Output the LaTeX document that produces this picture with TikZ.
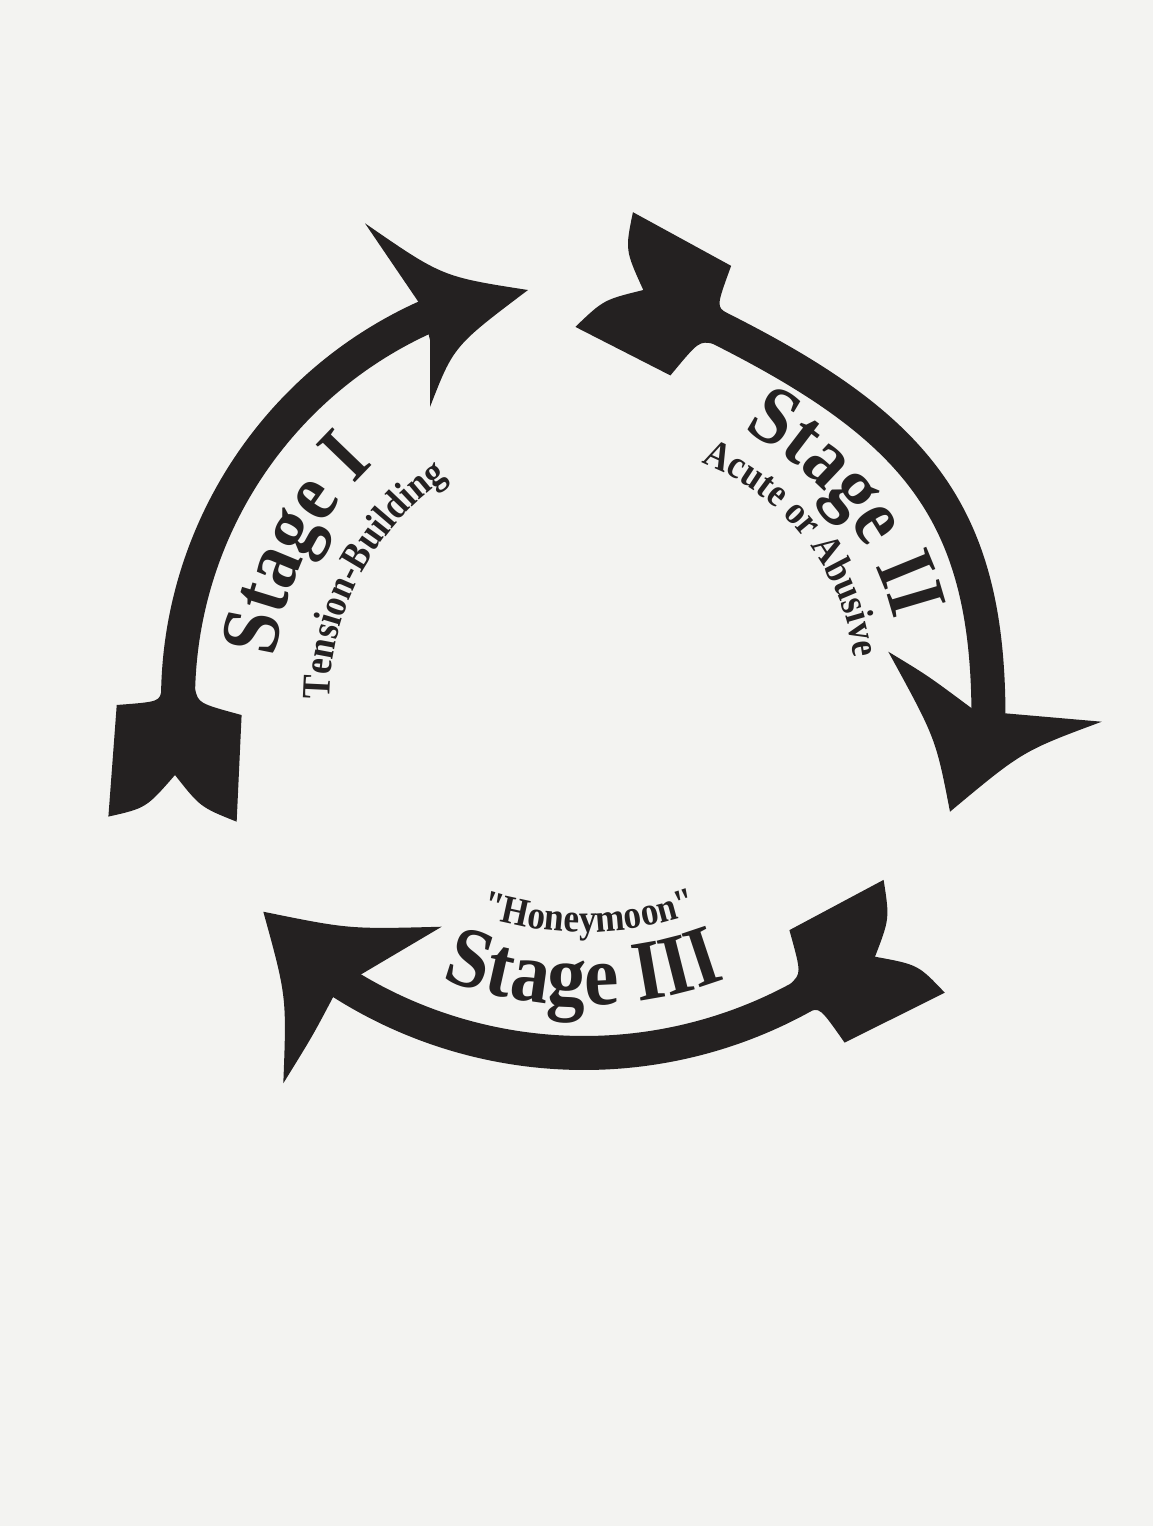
\documentclass[tikz,border=0pt]{standalone}
\usepackage{fontspec}
\setmainfont{Liberation Serif}[Ligatures=TeXOff]
\newfontfamily\narrowserif{Liberation Serif}[Ligatures=TeXOff,FakeStretch=0.9]
\newfontfamily\narrowerserif{Liberation Serif}[Ligatures=TeXOff,FakeStretch=0.88]
\usetikzlibrary{decorations.text}
\definecolor{ink}{RGB}{36,33,33}
\definecolor{paper}{RGB}{243,243,241}
\newcommand\stagefont{\narrowserif\fontsize{47.2pt}{49pt}\selectfont\bfseries}
\newcommand\bigstagefont{\narrowserif\fontsize{49pt}{51pt}\selectfont\bfseries}
\newcommand\subfont{\narrowerserif\fontsize{22.8pt}{24pt}\selectfont\bfseries}
\tikzset{
  inkfill/.style={fill=ink,draw=none},
  shaft/.style={draw=ink,line width=0.68cm,line cap=butt},
  arclabel/.style={decorate,decoration={text along path,text align=center,text color=ink,text={#1}}},
  fletch/.pic={
    \fill[inkfill] (0.63,16.6) .. controls (14.1,17.8) .. (19,60.9) -- (130.9,65)
      .. controls (120.9,27.6) .. (86.8,0) .. controls (117.9,-26.5) .. (131.1,-63.4)
      -- (24.3,-64.3) .. controls (14.2,-20.6) .. (-0.63,-16.6) -- cycle;
  }
}
\begin{document}
\begin{tikzpicture}[x=0.02cm,y=0.02cm]
\fill[paper] (0,0) rectangle (1153,-1526);
\useasboundingbox (0,0) rectangle (1153,-1526);
% centres of the three arcs
\coordinate (c1) at (598,-700);
\coordinate (c2) at (614,-688);
\coordinate (c3) at (584,-602);
% shaft end points of arrow II
\coordinate (t2) at (716.4,-326.6);
\coordinate (h2) at (988.5,-718);
% shafts
\draw[shaft] ([shift={(179.2:420)}]c1) arc[start angle=179.2,end angle=113.5,radius=420];
\draw[shaft] (t2) .. controls (917.6,-427.2) and (988.5,-513) .. (h2);
\draw[shaft] ([shift={(-60.8:451)}]c3) arc[start angle=-60.8,end angle=-122.8,radius=451];
% tails (fletching)
\begin{scope}[cm={-0.038,-0.999,-0.999,0.038,(178.3,-688.3)}]
  \pic[transform shape]{fletch};
\end{scope}
\begin{scope}[cm={-0.894,0.447,0.447,0.894,(720.9,-328.8)}]
  \pic[transform shape]{fletch};
\end{scope}
\begin{scope}[cm={0.878,0.478,0.478,-0.878,(798.8,-998.2)}]
  \pic[transform shape]{fletch};
\end{scope}
% heads
\fill[inkfill] (421.7,-306.7) -- (365,-223.3) .. controls (442.2,-276.7) .. (528,-290)
  .. controls (453.6,-346.1) .. (430,-407) -- (430,-340) -- cycle;
\fill[inkfill] (1005,-713.3) -- (1101.7,-721.7) .. controls (1022.5,-751.1) .. (950,-811.7)
  .. controls (935.8,-738.3) .. (888.3,-651.7) .. controls (927.8,-675.6) .. (971.7,-708.3) -- cycle;
\fill[inkfill] (360,-975) -- (441.7,-926.7) .. controls (349.2,-929.2) .. (263.3,-911.7)
  .. controls (286.7,-996.4) .. (283.3,-1083.3) .. controls (312.8,-1035.6) .. (333.3,-996.7) -- cycle;
% labels
\path[arclabel={|\stagefont|Stage I}] ([shift={(193:326)}]c1) arc[start angle=193,end angle=113,radius=326];
\path[arclabel={|\subfont|Tension-Building}] ([shift={(197:268)}]c1) arc[start angle=197,end angle=107,radius=268];
\path[arclabel={|\stagefont|Stage II}] ([shift={(83.5:288)}]c2) arc[start angle=83.5,end angle=-6.5,radius=288];
\path[arclabel={|\subfont|Acute or Abusive}] ([shift={(85:242)}]c2) arc[start angle=85,end angle=-9,radius=242];
\path[arclabel={|\bigstagefont|Stage III}] ([shift={(-135:403)}]c3) arc[start angle=-135,end angle=-45,radius=403];
\path[arclabel={|\subfont|"Honeymoon"}] ([shift={(-134:330)}]c3) arc[start angle=-134,end angle=-44,radius=330];
\end{tikzpicture}
\end{document}
